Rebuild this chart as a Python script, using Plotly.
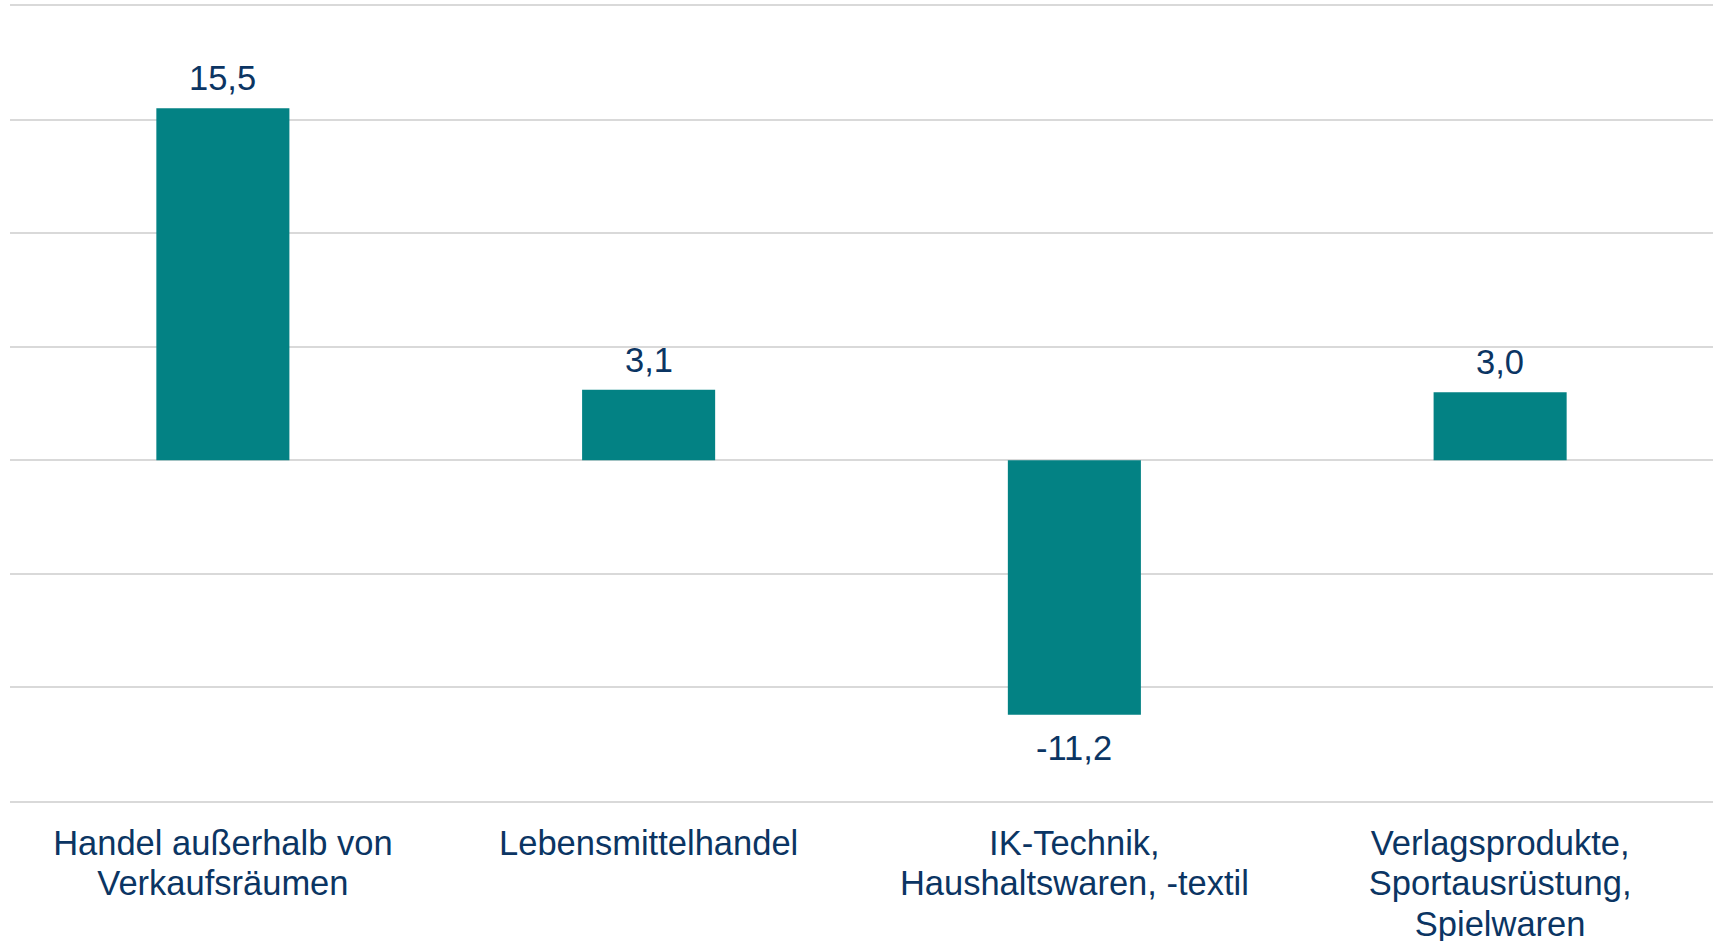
import plotly.graph_objects as go

categories = [
    ["Handel außerhalb von", "Verkaufsräumen"],
    ["Lebensmittelhandel"],
    ["IK-Technik,", "Haushaltswaren, -textil"],
    ["Verlagsprodukte,", "Sportausrüstung,", "Spielwaren"],
]
values = [15.5, 3.1, -11.2, 3.0]
value_labels = ["15,5", "3,1", "-11,2", "3,0"]

BAR = "#038284"
TXT = "#0b3563"
GRID = "#d9d9d9"
FONT = "Liberation Sans, Arial, sans-serif"
GLYPH = 34.5

ticktext = ["<br>".join(f'<span style="font-size:{GLYPH}px">{ln}</span>' for ln in lines)
            for lines in categories]

fig = go.Figure()
fig.add_trace(go.Bar(
    x=list(range(len(categories))), y=values,
    marker=dict(color=BAR, line=dict(width=0)),
    hoverinfo="skip",
))

for i, (v, t) in enumerate(zip(values, value_labels)):
    fig.add_annotation(
        x=i, y=v, text=t, showarrow=False,
        yanchor="bottom" if v >= 0 else "top",
        yshift=9 if v >= 0 else -12,
        font=dict(family=FONT, size=GLYPH, color=TXT),
    )

fig.update_layout(
    width=1713, height=941,
    margin=dict(l=10, r=0, t=6, b=140, autoexpand=False),
    paper_bgcolor="white", plot_bgcolor="white",
    showlegend=False,
    bargap=0.6875,
    font=dict(family=FONT, size=31, color=TXT),
    xaxis=dict(
        tickmode="array", tickvals=list(range(len(categories))), ticktext=ticktext,
        range=[-0.5, 3.5], showgrid=False, zeroline=False,
        showline=True, mirror=True, linecolor=GRID, linewidth=1.5,
        ticks="", ticklabelstandoff=15, automargin=False,
        tickfont=dict(family=FONT, size=31, color=TXT),
    ),
    yaxis=dict(
        range=[-15, 20], dtick=5, tick0=0, automargin=False,
        showgrid=True, gridcolor=GRID, gridwidth=1.5,
        zeroline=True, zerolinecolor=GRID, zerolinewidth=1.5,
        showticklabels=False, ticks="", showline=False,
    ),
)

fig.write_html(
    "out.html",
    config={"displayModeBar": False},
    post_script="document.body.style.margin='0';document.body.style.overflow='hidden';",
)
